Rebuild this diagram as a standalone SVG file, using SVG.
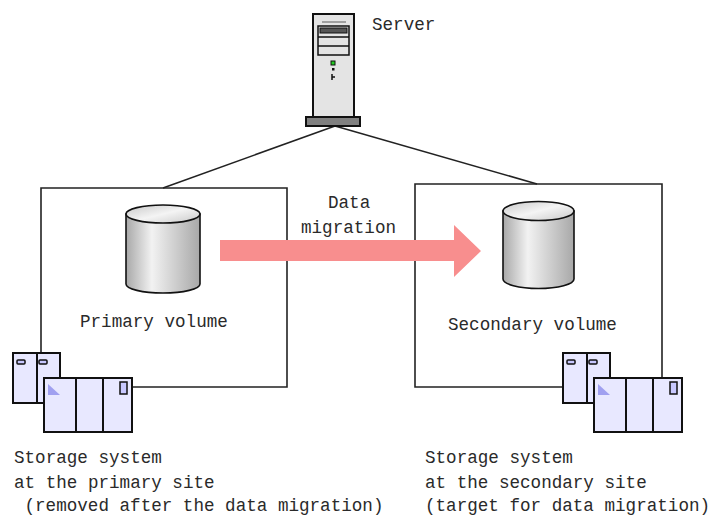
<svg xmlns="http://www.w3.org/2000/svg" width="711" height="516" viewBox="0 0 711 516">
  <defs>
    <linearGradient id="cylBody" x1="0" y1="0" x2="1" y2="0">
      <stop offset="0" stop-color="#a8a8a8"/>
      <stop offset="0.35" stop-color="#f2f2f2"/>
      <stop offset="1" stop-color="#a8a8a8"/>
    </linearGradient>
    <linearGradient id="cylTop" x1="0" y1="0" x2="1" y2="1">
      <stop offset="0" stop-color="#c8c8c8"/>
      <stop offset="0.5" stop-color="#f4f4f4"/>
      <stop offset="1" stop-color="#c8c8c8"/>
    </linearGradient>
    <!-- storage cabinet pair, origin at the small unit's top-left -->
    <g id="storageUnit">
      <rect x="0" y="0" width="47" height="50" class="cab"/>
      <line x1="24" y1="0" x2="24" y2="50" class="ln"/>
      <rect x="4" y="7" width="8" height="4" rx="1" class="knob"/>
      <rect x="26" y="7" width="8" height="4" rx="1" class="knob"/>
      <rect x="31" y="25" width="88" height="54" class="cab"/>
      <line x1="63" y1="25" x2="63" y2="79" class="ln"/>
      <line x1="90" y1="25" x2="90" y2="79" class="ln"/>
      <polygon points="35,31 35,42 47,42" fill="#a0a0f0"/>
      <rect x="107" y="29" width="7" height="12" class="knob"/>
    </g>
  </defs>
  <style>
    .txt { font-family: "Liberation Mono", "DejaVu Sans Mono", monospace; font-size: 17.6px; fill: #2a2a2a; }
    .frame { fill: none; stroke: #222; stroke-width: 1.6; }
    .conn { fill: none; stroke: #222; stroke-width: 1.6; }
    .cab { fill: #e8e8ff; stroke: #111; stroke-width: 2; }
    .ln { stroke: #111; stroke-width: 2; }
    .knob { fill: #c8c8ff; stroke: #111; stroke-width: 1.5; }
    .cyl { stroke: #111; stroke-width: 1.6; }
  </style>

  <rect width="711" height="516" fill="#ffffff"/>

  <!-- links from the server to both sites -->
  <g id="connectors">
    <line x1="335" y1="126" x2="163" y2="188" class="conn"/>
    <line x1="335" y1="126" x2="537" y2="184" class="conn"/>
  </g>

  <!-- server tower -->
  <g id="server">
    <rect x="313" y="14" width="41" height="103" fill="#e4e4e4" stroke="#111" stroke-width="2"/>
    <line x1="322" y1="22" x2="346" y2="22" stroke="#888" stroke-width="1.5"/>
    <rect x="318" y="26" width="31" height="29" fill="#e4e4e4" stroke="#111" stroke-width="1.5"/>
    <rect x="320" y="28" width="27" height="5" fill="#555" stroke="#111" stroke-width="1"/>
    <line x1="318" y1="37" x2="349" y2="37" stroke="#111" stroke-width="1.5"/>
    <line x1="318" y1="46" x2="349" y2="46" stroke="#111" stroke-width="1.5"/>
    <rect x="331" y="61" width="4" height="4" fill="#2c2" stroke="#111" stroke-width="1"/>
    <rect x="332" y="68" width="2.5" height="2.5" fill="#111"/>
    <path d="M332 74 v6 M332 77 h3" stroke="#111" stroke-width="1.5"/>
    <rect x="306" y="117" width="54" height="9" fill="#808080" stroke="#111" stroke-width="2"/>
    <text x="372" y="30" class="txt">Server</text>
  </g>

  <!-- primary site -->
  <g id="primary-site">
    <path d="M41 353 V188 H287 V387 H132" class="frame"/>
    <g id="primary-volume">
      <path d="M126 214 V284 A37 9 0 0 0 200 284 V214 Z" fill="url(#cylBody)" class="cyl"/>
      <ellipse cx="163" cy="214" rx="37" ry="9" fill="url(#cylTop)" class="cyl"/>
      <text x="80" y="327" class="txt">Primary volume</text>
    </g>
    <g id="primary-storage">
      <use href="#storageUnit" x="13" y="353"/>
      <text class="txt">
        <tspan x="14" y="463">Storage system</tspan>
        <tspan x="14" y="488">at the primary site</tspan>
        <tspan x="24.5" y="511">(removed after the data migration)</tspan>
      </text>
    </g>
  </g>

  <!-- secondary site -->
  <g id="secondary-site">
    <path d="M563 387 H415 V184 H662 V378" class="frame"/>
    <g id="secondary-volume">
      <path d="M503 211 V279 A35.5 9.5 0 0 0 574 279 V211 Z" fill="url(#cylBody)" class="cyl"/>
      <ellipse cx="538.5" cy="211" rx="35.5" ry="9.5" fill="url(#cylTop)" class="cyl"/>
      <text x="448" y="330" class="txt">Secondary volume</text>
    </g>
    <g id="secondary-storage">
      <use href="#storageUnit" x="563" y="353"/>
      <text class="txt">
        <tspan x="425" y="463">Storage system</tspan>
        <tspan x="425" y="488">at the secondary site</tspan>
        <tspan x="425" y="511">(target for data migration)</tspan>
      </text>
    </g>
  </g>

  <!-- data migration arrow -->
  <g id="migration">
    <polygon points="220,240 454,240 454,225 481,251 454,277 454,261 220,261" fill="#f88e8e"/>
    <text class="txt">
      <tspan x="328" y="208">Data</tspan>
      <tspan x="301" y="233">migration</tspan>
    </text>
  </g>
</svg>
